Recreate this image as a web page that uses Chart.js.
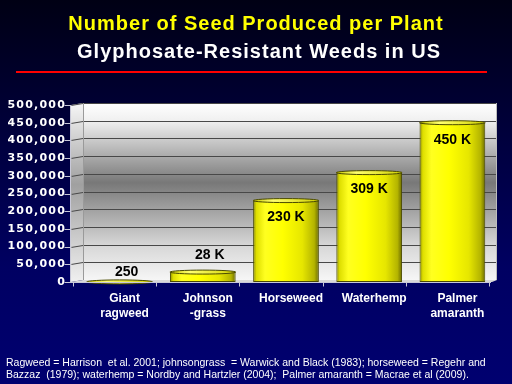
<!DOCTYPE html>
<html><head><meta charset="utf-8">
<script src="https://cdn.jsdelivr.net/npm/chart.js@4.4.1/dist/chart.umd.min.js"></script>
<style>html,body{margin:0;padding:0;background:#000040;}canvas{display:block;}</style>
</head><body>
<canvas id="c" width="512" height="384"></canvas>
<script>
const categories = [['Giant','ragweed'],['Johnson','-grass'],['Horseweed'],['Waterhemp'],['Palmer','amaranth']];
const seedValues = [250, 28000, 230000, 309000, 450000];
const valueLabels = ['250', '28 K', '230 K', '309 K', '450 K'];
const yTicks = [0, 50000, 100000, 150000, 200000, 250000, 300000, 350000, 400000, 450000, 500000];
const titleLine1 = 'Number of Seed Produced per Plant';
const titleLine2 = 'Glyphosate-Resistant Weeds in US';
const footLines = [
  'Ragweed = Harrison  et al. 2001; johnsongrass  = Warwick and Black (1983); horseweed = Regehr and',
  'Bazzaz  (1979); waterhemp = Nordby and Hartzler (2004);  Palmer amaranth = Macrae et al (2009).'
];

const DX = 5; // half depth shift of 3D

function barGradient(context) {
  const chart = context.chart;
  const ca = chart.chartArea;
  if (!ca) return '#ffff00';
  const x = chart.scales.x.getPixelForValue(context.dataIndex);
  const w = (ca.right - ca.left) / categories.length * 0.79;
  const g = chart.ctx.createLinearGradient(x - w/2, 0, x + w/2, 0);
  g.addColorStop(0, '#8a8a00');
  g.addColorStop(0.05, '#dede00');
  g.addColorStop(0.18, '#ffff20');
  g.addColorStop(0.45, '#ffff00');
  g.addColorStop(0.75, '#e6e600');
  g.addColorStop(0.93, '#b4b400');
  g.addColorStop(1, '#6a6a00');
  return g;
}

const deco = {
  id: 'deco',
  beforeDraw(chart) {
    const ctx = chart.ctx, ca = chart.chartArea, ys = chart.scales.y;
    if (!ys._lsPatched) {
      const orig = ys.drawLabels.bind(ys);
      ys.drawLabels = function(a) { ctx.save(); ctx.letterSpacing = '1.2px'; orig(a); ctx.restore(); };
      ys._lsPatched = true;
    }
    ctx.save();
    const bg = ctx.createLinearGradient(0, 0, 0, chart.height);
    bg.addColorStop(0, '#000014');
    bg.addColorStop(0.35, '#00003c');
    bg.addColorStop(0.7, '#000062');
    bg.addColorStop(1, '#000070');
    ctx.fillStyle = bg;
    ctx.fillRect(0, 0, chart.width, chart.height);

    const frontL = ca.left - 7, backL = ca.left + DX, backR = ca.right + 3, frontR = ca.right - DX;
    const top = ca.top, bot = ca.bottom, up = 2;
    const wg = ctx.createLinearGradient(0, top - up, 0, bot - up);
    wg.addColorStop(0, '#ffffff');
    wg.addColorStop(0.1, '#f0f0f0');
    wg.addColorStop(0.45, '#787878');
    wg.addColorStop(0.8, '#d6d6d6');
    wg.addColorStop(1, '#f6f6f6');
    ctx.fillStyle = wg;
    ctx.fillRect(backL, top - up, backR - backL, bot - top);
    const lg = ctx.createLinearGradient(0, top, 0, bot);
    lg.addColorStop(0, '#f4f4f4');
    lg.addColorStop(0.45, '#a0a0a0');
    lg.addColorStop(1, '#f0f0f0');
    ctx.fillStyle = lg;
    ctx.beginPath();
    ctx.moveTo(frontL, top); ctx.lineTo(backL, top - up); ctx.lineTo(backL, bot - up); ctx.lineTo(frontL, bot);
    ctx.closePath(); ctx.fill();
    ctx.fillStyle = '#d8d8d8';
    ctx.beginPath();
    ctx.moveTo(frontL, bot); ctx.lineTo(backL, bot - up); ctx.lineTo(backR, bot - up); ctx.lineTo(frontR + 3, bot);
    ctx.closePath(); ctx.fill();
    ctx.lineWidth = 1;
    yTicks.forEach(v => {
      const y = Math.round(ys.getPixelForValue(v)) + 0.5;
      if (v === 0) return;
      ctx.strokeStyle = '#484848';
      ctx.beginPath();
      ctx.moveTo(frontL, y); ctx.lineTo(backL, y - up); ctx.lineTo(backR, y - up);
      ctx.stroke();
    });
    ctx.strokeStyle = '#9a9a9a';
    ctx.beginPath(); ctx.moveTo(backL + 0.5, top - up); ctx.lineTo(backL + 0.5, bot - up); ctx.stroke();
    ctx.strokeStyle = '#bdbdbd';
    ctx.beginPath(); ctx.moveTo(backR - 0.5, top - up); ctx.lineTo(backR - 0.5, bot - up); ctx.stroke();
    ctx.restore();
  },
  afterDatasetsDraw(chart) {
    const ctx = chart.ctx, meta = chart.getDatasetMeta(0), ca = chart.chartArea;
    ctx.save();
    meta.data.forEach((bar, i) => {
      const w = bar.width, x = bar.x, y = bar.y;
      const eg = ctx.createLinearGradient(x - w/2, 0, x + w/2, 0);
      eg.addColorStop(0, '#c8c800');
      eg.addColorStop(0.3, '#ffff70');
      eg.addColorStop(1, '#d0d000');
      ctx.fillStyle = eg;
      ctx.strokeStyle = '#4a4a00';
      ctx.lineWidth = 1;
      ctx.beginPath();
      ctx.ellipse(x, y, w/2, 2, 0, 0, Math.PI * 2);
      ctx.fill(); ctx.stroke();
      ctx.fillStyle = '#000000';
      ctx.font = 'bold 14px "Liberation Sans", Arial, sans-serif';
      ctx.textAlign = 'center';
      ctx.textBaseline = 'middle';
      const h = ca.bottom - y;
      if (h > 60) {
        ctx.fillText(valueLabels[i], x, y + 17);
      } else {
        ctx.fillText(valueLabels[i], x + 7, y - (10 + Math.min(7, h)));
      }
    });
    ctx.restore();
  },
  afterDraw(chart) {
    const ctx = chart.ctx, ca = chart.chartArea, ys = chart.scales.y;
    ctx.save();
    const ax = ca.left - 7.5;
    ctx.strokeStyle = '#c8c8d8';
    ctx.lineWidth = 1;
    ctx.beginPath(); ctx.moveTo(ax, ca.top); ctx.lineTo(ax, ca.bottom); ctx.stroke();
    yTicks.forEach(v => {
      const y = Math.round(ys.getPixelForValue(v)) + 0.5;
      ctx.beginPath(); ctx.moveTo(ax - 6, y); ctx.lineTo(ax + 1, y); ctx.stroke();
    });
    const yb = Math.round(ca.bottom) + 0.5;
    ctx.beginPath(); ctx.moveTo(ax, yb); ctx.lineTo(ca.right - DX + 2, yb); ctx.stroke();
    const cw = (ca.right - ca.left) / categories.length;
    for (let k = 0; k <= categories.length; k++) {
      const x = Math.round(ca.left + k * cw - DX) + 0.5;
      ctx.beginPath(); ctx.moveTo(x, yb); ctx.lineTo(x, yb + 4); ctx.stroke();
    }
    ctx.textAlign = 'center';
    ctx.textBaseline = 'alphabetic';
    ctx.letterSpacing = '1px';
    ctx.font = 'bold 20px "Liberation Sans", Arial, sans-serif';
    ctx.fillStyle = '#ffff00';
    ctx.fillText(titleLine1, 256, 30);
    ctx.fillStyle = '#ffffff';
    ctx.fillText(titleLine2, 259, 58);
    ctx.letterSpacing = '0px';
    ctx.fillStyle = '#ff0000';
    ctx.fillRect(16, 71, 471, 2);
    ctx.textAlign = 'left';
    ctx.fillStyle = '#ffffff';
    ctx.font = '10.5px "Liberation Sans", Arial, sans-serif';
    ctx.fillText(footLines[0], 6, 366);
    ctx.fillText(footLines[1], 6, 378);
    ctx.restore();
  }
};

new Chart(document.getElementById('c'), {
  type: 'bar',
  data: {
    labels: categories,
    datasets: [{
      data: seedValues,
      backgroundColor: barGradient,
      borderColor: '#4a4a00',
      borderWidth: 1,
      borderSkipped: false,
      categoryPercentage: 1,
      barPercentage: 0.79
    }]
  },
  options: {
    responsive: false,
    animation: false,
    devicePixelRatio: 1,
    layout: { padding: { top: 105, right: 18, left: 0, bottom: 0 } },
    plugins: { legend: { display: false }, tooltip: { enabled: false }, title: { display: false } },
    scales: {
      x: {
        grid: { display: false },
        border: { display: false },
        afterFit(s) { s.height = 102; },
        ticks: {
          color: '#ffffff',
          font: { family: '"Liberation Sans", Arial, sans-serif', size: 12, weight: 'bold', lineHeight: 1.25 },
          padding: 1,
          labelOffset: 5,
          maxRotation: 0,
          autoSkip: false
        }
      },
      y: {
        min: 0, max: 500000,
        afterFit(s) { s.width = 78; },
        afterBuildTicks(s) { s.ticks = yTicks.map(v => ({ value: v })); },
        grid: { display: false },
        border: { display: false },
        ticks: {
          color: '#ffffff',
          padding: 4,
          font: { family: '"DejaVu Sans", sans-serif', size: 11, weight: 'bold' },
          callback: v => v.toLocaleString('en-US')
        }
      }
    }
  },
  plugins: [deco]
});
</script>
</body></html>
